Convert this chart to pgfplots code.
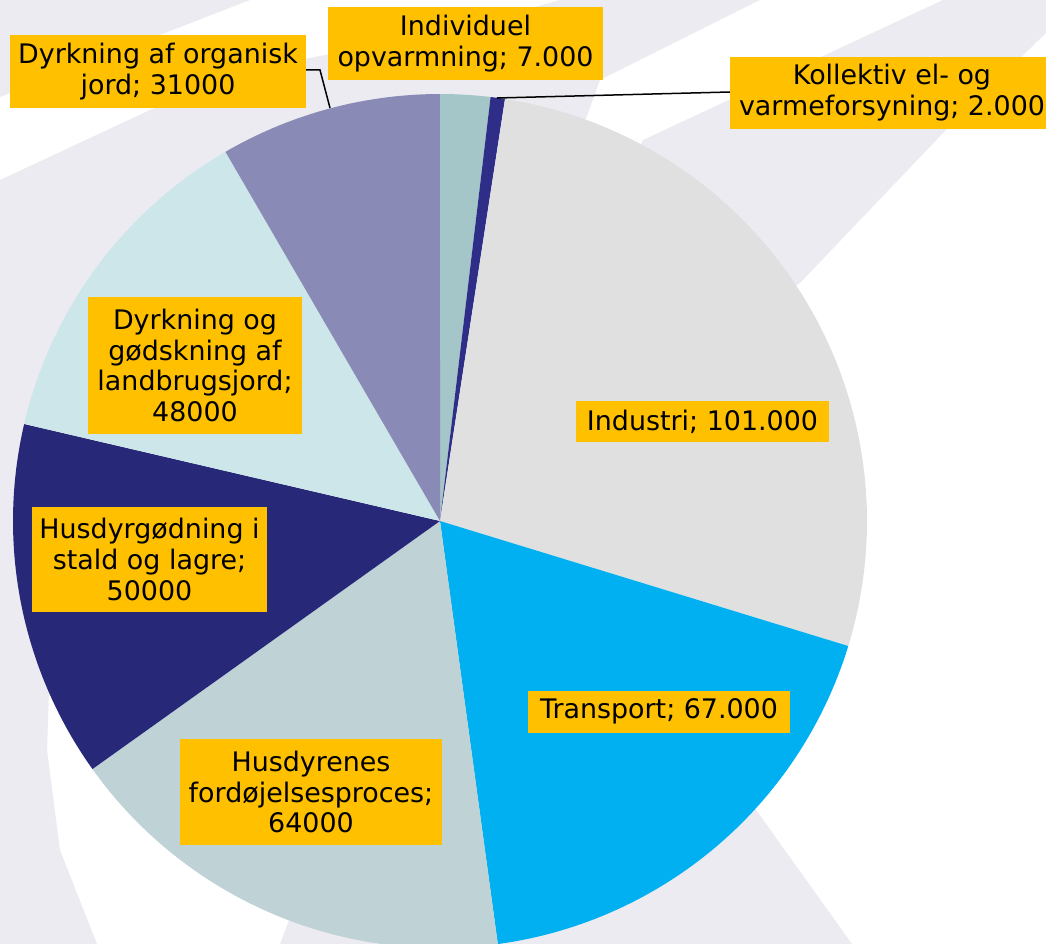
\documentclass[border=0pt]{standalone}
\usepackage{pgfplots}
\pgfplotsset{compat=1.18}
\usepackage{fontspec}
\newfontfamily\labfont{DejaVu Sans}

\definecolor{bgc}{HTML}{EBEBF1}
\definecolor{lab}{HTML}{FFC000}
\definecolor{cIndiv}{HTML}{A5C6C9}
\definecolor{cKoll}{HTML}{2E2D88}
\definecolor{cInd}{HTML}{E0E0E0}
\definecolor{cTrans}{HTML}{00B0F0}
\definecolor{cFord}{HTML}{BFD3D6}
\definecolor{cGod}{HTML}{272878}
\definecolor{cDyrk}{HTML}{CCE6EA}
\definecolor{cOrg}{HTML}{8A8AB6}

% pie geometry in pixel units of the reference
\def\cx{440}
\def\cy{521}
\def\rr{427}
\def\total{370}  % thousand tonnes
\def\cum{0}
\newcommand\slice[2]{% value (thousands), colour
  \pgfmathsetmacro\sa{-90+(\cum/\total)*360}
  \pgfmathsetmacro\sb{-90+((\cum+#1)/\total)*360}
  \edef\temp{\noexpand\addplot[fill=#2, draw=none, domain=\sa:\sb, samples=120]
    ({\cx+\rr*cos(x)},{\cy+\rr*sin(x)}) -- (axis cs:\cx,\cy) -- cycle;}
  \temp
  \pgfmathsetmacro\cc{\cum+#1}\xdef\cum{\cc}%
}
\tikzset{lbl/.style={fill=lab, inner sep=0pt, align=center,
  font=\labfont\fontsize{13.5}{15.5}\selectfont, text=black}}

\begin{document}
\begin{tikzpicture}
\begin{axis}[
  width=523bp, height=472bp, scale only axis,
  xmin=0, xmax=1046, ymin=0, ymax=944, y dir=reverse,
  hide axis, clip=false]
  \coordinate (bl) at (axis cs:0,944);
  \coordinate (tr) at (axis cs:1046,0);
  % faint background watermark
  \addplot[fill=bgc, draw=none] coordinates {(0,0) (250,0) (0,97)} -- cycle;
  \addplot[fill=bgc, draw=none] coordinates {(0,180) (150,110) (300,60) (460,28) (560,0)
    (760,0) (600,80) (440,521) (49,693) (47,750) (60,850) (97,944) (0,944)} -- cycle;
  \addplot[fill=bgc, draw=none] coordinates {(643,140) (943,0) (1046,0) (1046,33)
    (943,133) (800,283) (440,521)} -- cycle;
  \addplot[fill=bgc, draw=none] coordinates {(280,944) (440,521) (754,807) (852,944)} -- cycle;
  % slices, clockwise from the top
  \slice{7}{cIndiv}    % Individuel opvarmning
  \slice{2}{cKoll}     % Kollektiv el- og varmeforsyning
  \slice{101}{cInd}    % Industri
  \slice{67}{cTrans}   % Transport
  \slice{64}{cFord}    % Husdyrenes fordøjelsesproces
  \slice{50}{cGod}     % Husdyrgødning i stald og lagre
  \slice{48}{cDyrk}    % Dyrkning og gødskning af landbrugsjord
  \slice{31}{cOrg}     % Dyrkning af organisk jord
  % leader lines
  \draw[black, line width=0.75bp] (axis cs:306,70) -- (axis cs:320,70) -- (axis cs:330,108);
  \draw[black, line width=0.75bp] (axis cs:730,92) -- (axis cs:497,98);
  % data labels
  \node[lbl, minimum width=148bp, minimum height=36.5bp] at (axis cs:158,71.5)
    {Dyrkning af organisk\\jord; 31000};
  \node[lbl, minimum width=137.5bp, minimum height=36.5bp] at (axis cs:465.5,43.5)
    {Individuel\\opvarmning; 7.000};
  \node[lbl, minimum width=162bp, minimum height=36bp] at (axis cs:892,93)
    {Kollektiv el- og\\varmeforsyning; 2.000};
  \node[lbl, minimum width=107bp, minimum height=68.5bp] at (axis cs:195,365.5)
    {Dyrkning og\\gødskning af\\landbrugsjord;\\48000};
  \node[lbl, minimum width=117.5bp, minimum height=52.5bp] at (axis cs:149.5,559.5)
    {Husdyrgødning i\\stald og lagre;\\50000};
  \node[lbl, minimum width=131bp, minimum height=53bp] at (axis cs:311,792)
    {Husdyrenes\\fordøjelsesproces;\\64000};
  \node[lbl, minimum width=126.5bp, minimum height=20.5bp] at (axis cs:702.5,421.5)
    {Industri; 101.000};
  \node[lbl, minimum width=131bp, minimum height=21bp] at (axis cs:659,711.5)
    {Transport; 67.000};
\end{axis}
\pgfresetboundingbox
\path[use as bounding box] (bl) rectangle (tr);
\end{tikzpicture}
\end{document}
